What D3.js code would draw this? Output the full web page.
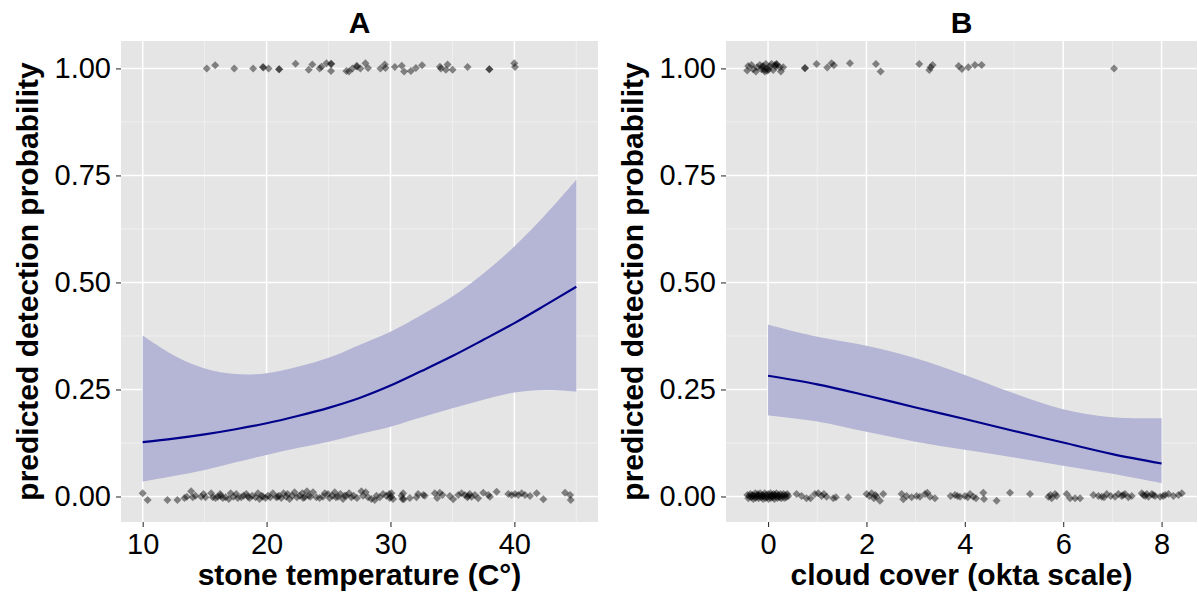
<!DOCTYPE html>
<html>
<head>
<meta charset="utf-8">
<script src="https://cdn.jsdelivr.net/npm/d3@7"></script>
<style>
  html, body { margin: 0; padding: 0; background: #ffffff; }
  svg { display: block; }
  text { font-family: "Liberation Sans", Arial, sans-serif; }
</style>
</head>
<body>
<svg id="chart" width="1198" height="596"></svg>
<script>
// ---- Model fit: detection probability vs stone temperature ----
const tempGrid  = [10, 12.5, 15, 17.5, 20, 22.5, 25, 27.5, 30, 32.5, 35, 37.5, 40, 42.5, 45];
const tempFit   = [0.127, 0.135, 0.145, 0.157, 0.171, 0.188, 0.207, 0.230, 0.259, 0.293, 0.328, 0.366, 0.405, 0.447, 0.490];
const tempLower = [0.035, 0.048, 0.062, 0.080, 0.097, 0.113, 0.128, 0.146, 0.163, 0.185, 0.206, 0.226, 0.243, 0.249, 0.245];
const tempUpper = [0.376, 0.330, 0.299, 0.286, 0.288, 0.303, 0.324, 0.354, 0.385, 0.424, 0.467, 0.521, 0.584, 0.658, 0.740];

// ---- Model fit: detection probability vs cloud cover ----
const cloudGrid  = [0, 1, 2, 3, 4, 5, 6, 7, 8];
const cloudFit   = [0.282, 0.262, 0.236, 0.208, 0.181, 0.153, 0.126, 0.099, 0.077];
const cloudLower = [0.189, 0.175, 0.151, 0.128, 0.109, 0.091, 0.072, 0.053, 0.031];
const cloudUpper = [0.401, 0.373, 0.352, 0.323, 0.284, 0.241, 0.204, 0.185, 0.183];

// ---- Jittered observations [x, detected(0/1 + jitter)] ----
const tempDetected = [
  [15.17, 0.9995], [15.85, 1.0075], [17.39, 0.9995], [18.92, 0.9995], [19.70, 1.003], [19.74, 1.002],
  [20.16, 0.9995], [21.00, 0.998], [21.03, 0.998], [22.34, 1.011], [23.40, 0.997], [23.69, 1.009],
  [24.28, 0.9995], [24.44, 1.004], [24.83, 1.012], [25.20, 1.0105], [25.22, 1.011], [25.20, 0.994],
  [26.44, 0.994], [26.65, 0.9925], [26.93, 0.9995], [27.28, 1.006], [27.30, 1.004], [27.57, 0.9995],
  [27.98, 1.012], [28.19, 1.001], [29.19, 0.9995], [29.54, 1.009], [29.60, 1.001], [30.35, 1.003],
  [30.91, 1.006], [31.10, 0.9925], [31.64, 0.994], [32.05, 1.001], [32.55, 1.0075], [33.99, 1.004],
  [34.07, 0.9995], [34.47, 0.997], [34.61, 1.009], [35.01, 0.997], [36.22, 1.003], [37.97, 0.998],
  [37.99, 0.998], [39.99, 1.012], [40.05, 1.003]
];
const tempMissed = [
  [10.00, 0.0075], [10.40, -0.008], [12.00, -0.008], [12.80, -0.008],
  [13.37, -0.0035], [13.56, -0.0004], [13.91, 0.012], [14.04, -0.0019], [14.26, 0.002], [14.72, -0.0004],
  [14.91, 0.0058], [15.07, -0.0019], [15.53, 0.0074], [15.66, -0.0019], [15.88, -0.0035], [16.07, -0.0004],
  [16.25, 0.0058], [16.47, -0.0035], [16.69, -0.0019], [16.95, -0.0058], [17.33, -0.0004], [17.55, 0.0058],
  [17.68, -0.0035], [17.95, -0.0019], [18.14, 0.002], [18.36, 0.0058], [18.63, -0.0035], [18.84, 0.002],
  [19.11, -0.0019], [19.30, 0.0074], [19.43, -0.0058], [19.70, -0.0004], [19.92, -0.0035], [20.11, 0.002],
  [20.30, -0.0019], [20.51, 0.0074], [20.78, -0.0019], [21.00, 0.002], [21.19, -0.0035], [21.37, 0.0074],
  [21.59, -0.0004], [21.86, -0.0058], [22.07, 0.002], [22.26, 0.0097], [22.45, -0.0019], [22.67, 0.002],
  [22.88, 0.0074], [23.07, -0.0019], [23.26, 0.012], [23.53, -0.0004], [23.75, 0.0097], [24.02, -0.0019],
  [24.28, -0.0035], [24.55, -0.0004], [24.96, 0.0058], [25.09, -0.0035], [25.31, 0.002], [25.50, 0.0097],
  [25.77, -0.0004], [25.96, 0.0058], [26.17, -0.0058], [26.44, 0.002], [26.66, 0.0074], [26.84, -0.0019],
  [27.03, 0.002], [27.30, -0.0035], [27.65, 0.012], [27.79, 0.002], [28.00, 0.0097], [28.19, -0.0019],
  [28.46, -0.0058], [28.73, -0.0082], [28.87, 0.002], [29.14, -0.0019], [29.40, 0.0058], [29.67, 0.002],
  [29.94, -0.0035], [30.08, 0.0074], [30.21, -0.0058], [30.89, 0.002], [30.97, -0.0058], [31.56, -0.0035],
  [32.10, -0.0019], [32.23, 0.0058], [32.77, 0.002], [33.58, 0.0074], [33.77, -0.0035],
  [16.30, 0.002], [17.10, 0.0074], [18.50, -0.0004], [19.60, 0.002], [20.90, -0.0004], [21.70, 0.0058],
  [22.95, -0.0035], [23.40, 0.002], [24.70, 0.0074], [25.60, -0.0019], [26.30, 0.002], [29.90, 0.0058],
  [30.05, -0.0004], [33.98, 0.009], [34.20, 0.0035], [34.79, 0.0012], [35.06, -0.0067], [35.47, 0.0035],
  [35.74, 0.0074], [36.01, 0.0035], [36.28, 0.0012], [36.55, -0.0004], [36.81, 0.0035], [37.08, -0.0043],
  [37.49, 0.009], [37.89, 0.0035], [38.03, -0.0004], [38.57, 0.0113], [39.51, 0.0058], [39.78, 0.0035],
  [40.05, 0.0058], [40.32, 0.0035], [40.59, 0.0074], [40.86, 0.0035], [41.26, 0.0012], [41.80, 0.0074],
  [42.34, -0.0067], [44.09, 0.009], [44.50, 0.0035], [44.55, -0.0082], [31.02, 0.0074], [31.07, -0.0067],
  [32.64, 0.0035], [36.20, -0.0019], [36.40, 0.0058]
];
const cloudDetected = [
  [-0.424, 0.9949], [-0.404, 1.0058], [-0.336, 1.0082], [-0.302, 0.998], [-0.248, 0.9926], [-0.221, 1.0027],
  [-0.167, 1.0082], [-0.133, 0.998], [-0.099, 1.0058], [-0.065, 0.9926], [-0.044, 1.0105], [-0.017, 1.0004],
  [0.037, 1.0043], [0.071, 1.0105], [0.104, 0.9965], [0.138, 1.0082], [0.172, 1.0105], [0.175, 1.009],
  [0.159, 1.0043], [0.240, 1.0027], [0.260, 0.9926], [0.308, 1.0027], [-0.080, 0.997], [-0.020, 0.9945],
  [-0.120, 1.004], [0.010, 0.997], [0.749, 1.0004], [0.752, 1.001], [0.986, 1.0105], [1.203, 1.0019],
  [1.291, 1.012], [1.338, 1.0074], [1.664, 1.012], [2.193, 1.0105], [2.288, 0.9926], [3.074, 1.0105],
  [3.278, 0.9965], [3.305, 1.0027], [3.346, 1.0082], [3.874, 1.0058], [3.942, 0.9988], [4.071, 1.0027],
  [4.206, 1.0082], [4.342, 1.0082], [7.034, 0.9996]
];
const cloudMissed = [
  [-0.42, 0.0035], [-0.40, -0.0043], [-0.38, 0.0012], [-0.36, 0.0058], [-0.34, -0.0019], [-0.32, 0.0035],
  [-0.30, -0.0058], [-0.28, 0.0012], [-0.26, 0.0074], [-0.25, -0.0035], [-0.23, 0.0012], [-0.21, 0.0058],
  [-0.19, -0.0043], [-0.18, 0.0020], [-0.16, 0.0074], [-0.14, -0.0019], [-0.12, 0.0035], [-0.10, -0.0058],
  [-0.09, 0.0012], [-0.07, 0.0074], [-0.05, -0.0035], [-0.04, 0.0035], [-0.02, -0.0019], [0.00, 0.0058],
  [0.01, -0.0058], [0.03, 0.0012], [0.05, 0.0074], [0.06, -0.0035], [0.08, 0.0035], [0.10, -0.0019],
  [0.11, 0.0058], [0.13, -0.0058], [0.15, 0.0012], [0.17, 0.0074], [0.19, -0.0035], [0.21, 0.0035],
  [0.23, -0.0019], [0.25, 0.0058], [0.27, -0.0043], [0.29, 0.0012], [0.31, 0.0058], [0.33, -0.0035],
  [0.35, 0.0035], [0.37, -0.0019], [0.39, 0.0058], [0.41, 0.0012], [-0.31, 0.0012], [-0.11, 0.0012],
  [0.07, 0.0012], [0.22, 0.0012], [-0.20, 0.0012], [0.14, 0.0035],
  [0.579, 0.0058], [0.681, 0.0012], [0.782, -0.0043], [0.863, -0.0043], [0.952, 0.0058], [1.020, 0.0074],
  [1.088, 0.0012], [1.135, 0.0058], [1.190, -0.0004], [1.325, -0.0043], [1.380, -0.0019], [1.630, -0.0019],
  [2.003, 0.0058], [2.105, 0.0074], [2.152, -0.0043], [2.207, -0.0004], [2.274, -0.0098], [2.342, 0.0058],
  [2.060, 0.0012], [2.180, 0.0035], [2.715, 0.0058], [2.749, -0.0067], [2.817, 0.0012], [2.918, -0.0019],
  [3.020, 0.0012], [3.088, -0.0004], [3.190, 0.0058], [3.237, 0.0090], [3.292, -0.0004], [3.393, -0.0043],
  [3.712, 0.0012], [3.800, 0.0035], [3.902, -0.0004], [4.003, 0.0012], [4.105, 0.0058], [4.173, -0.0004],
  [4.227, -0.0043], [3.850, 0.0012], [4.060, -0.0019], [4.376, 0.0090], [4.390, -0.0058], [4.647, -0.0098],
  [4.919, 0.0090], [5.325, 0.0058], [5.698, -0.0004], [5.766, -0.0043], [5.834, 0.0058], [5.868, 0.0012],
  [5.740, 0.0035], [6.071, 0.0058], [6.139, -0.0043], [6.241, -0.0043], [6.343, -0.0043], [6.614, 0.0035],
  [6.715, 0.0012], [6.783, -0.0004], [6.885, 0.0058], [6.966, 0.0012], [7.054, -0.0004], [7.122, 0.0058],
  [7.190, 0.0012], [7.258, 0.0058], [7.325, -0.0019], [7.393, 0.0012], [6.830, -0.0019], [7.220, 0.0035],
  [7.597, 0.0074], [7.665, 0.0012], [7.733, -0.0004], [7.801, 0.0058], [7.869, 0.0012], [7.970, -0.0004],
  [7.630, 0.0035], [7.700, 0.0058], [7.830, 0.0035], [8.072, 0.0035], [8.140, 0.0058], [8.241, 0.0012],
  [8.343, 0.0035], [8.411, 0.0074], [8.030, 0.0012]
];

// ---- Axis settings ----
const yTicks = [0, 0.25, 0.5, 0.75, 1];
const yMinor = [0.125, 0.375, 0.625, 0.875];
const tempTicks = [10, 20, 30, 40];
const tempMinor = [15, 25, 35, 45];
const cloudTicks = [0, 2, 4, 6, 8];
const cloudMinor = [1, 3, 5, 7];

const panels = [
  {
    title: "A", xLabel: "stone temperature (C°)",
    left: 121, right: 598, xDomain: [8.25, 46.75],
    ticks: tempTicks, minor: tempMinor,
    grid: tempGrid, fit: tempFit, lower: tempLower, upper: tempUpper,
    points: tempMissed.concat(tempDetected)
  },
  {
    title: "B", xLabel: "cloud cover (okta scale)",
    left: 726, right: 1197, xDomain: [-0.855, 8.72],
    ticks: cloudTicks, minor: cloudMinor,
    grid: cloudGrid, fit: cloudFit, lower: cloudLower, upper: cloudUpper,
    points: cloudMissed.concat(cloudDetected)
  }
];

const plotTop = 41, plotBottom = 522;
const svg = d3.select("#chart");
const y = d3.scaleLinear().domain([-0.0596, 1.064]).range([plotBottom, plotTop]);
const diamond = r => `M0,${-r}L${r},0L0,${r}L${-r},0Z`;
const smooth = d3.curveCatmullRom.alpha(0.5);

panels.forEach(p => {
  const x = d3.scaleLinear().domain(p.xDomain).range([p.left, p.right]);
  const g = svg.append("g");

  // panel background
  g.append("rect")
    .attr("x", p.left).attr("y", plotTop)
    .attr("width", p.right - p.left).attr("height", plotBottom - plotTop)
    .attr("fill", "#e5e5e5");

  // minor grid
  g.selectAll(".vminor").data(p.minor).join("line")
    .attr("x1", d => x(d)).attr("x2", d => x(d))
    .attr("y1", plotTop).attr("y2", plotBottom)
    .attr("stroke", "#f2f2f2").attr("stroke-width", 0.8);
  g.selectAll(".hminor").data(yMinor).join("line")
    .attr("x1", p.left).attr("x2", p.right)
    .attr("y1", d => y(d)).attr("y2", d => y(d))
    .attr("stroke", "#f2f2f2").attr("stroke-width", 0.8);

  // major grid
  g.selectAll(".vmajor").data(p.ticks).join("line")
    .attr("x1", d => x(d)).attr("x2", d => x(d))
    .attr("y1", plotTop).attr("y2", plotBottom)
    .attr("stroke", "#ffffff").attr("stroke-width", 1.5);
  g.selectAll(".hmajor").data(yTicks).join("line")
    .attr("x1", p.left).attr("x2", p.right)
    .attr("y1", d => y(d)).attr("y2", d => y(d))
    .attr("stroke", "#ffffff").attr("stroke-width", 1.5);

  // confidence ribbon
  const rows = p.grid.map((gx, i) => ({ x: gx, fit: p.fit[i], lo: p.lower[i], hi: p.upper[i] }));
  g.append("path").datum(rows)
    .attr("d", d3.area().curve(smooth)
      .x(d => x(d.x)).y0(d => y(d.lo)).y1(d => y(d.hi)))
    .attr("fill", "#b5b5d5");

  // fitted line
  g.append("path").datum(rows)
    .attr("d", d3.line().curve(smooth).x(d => x(d.x)).y(d => y(d.fit)))
    .attr("fill", "none").attr("stroke", "#00008b").attr("stroke-width", 2.2);

  // observations
  g.selectAll(".pt").data(p.points).join("path")
    .attr("d", diamond(4))
    .attr("transform", d => `translate(${x(d[0])},${y(d[1])})`)
    .attr("fill", "#000000").attr("fill-opacity", 0.45);

  // axes
  const xAxis = g.append("g").attr("transform", `translate(0,${plotBottom})`)
    .call(d3.axisBottom(x).tickValues(p.ticks).tickFormat(d3.format("d")).tickSize(5).tickPadding(6));
  const yAxis = g.append("g").attr("transform", `translate(${p.left},0)`)
    .call(d3.axisLeft(y).tickValues(yTicks).tickFormat(d3.format(".2f")).tickSize(5).tickPadding(5));
  [xAxis, yAxis].forEach(a => {
    a.select(".domain").remove();
    a.selectAll(".tick line").attr("stroke", "#333333").attr("stroke-width", 1.1);
    a.selectAll(".tick text").attr("fill", "#000000")
      .style("font-size", "29px").style("font-family", "'Liberation Sans', Arial, sans-serif");
  });

  const cx = (p.left + p.right) / 2;
  const cy = (plotTop + plotBottom) / 2;

  // panel title
  g.append("text").attr("x", cx).attr("y", 33)
    .attr("text-anchor", "middle").attr("font-weight", "bold")
    .attr("font-size", 30).text(p.title);

  // axis titles
  g.append("text").attr("x", cx).attr("y", 585)
    .attr("text-anchor", "middle").attr("font-weight", "bold")
    .attr("font-size", 30).text(p.xLabel);
  g.append("text")
    .attr("transform", `translate(${p.left - 83},${cy}) rotate(-90)`)
    .attr("text-anchor", "middle").attr("font-weight", "bold")
    .attr("font-size", 30).text("predicted detection probability");
});
</script>
</body>
</html>
